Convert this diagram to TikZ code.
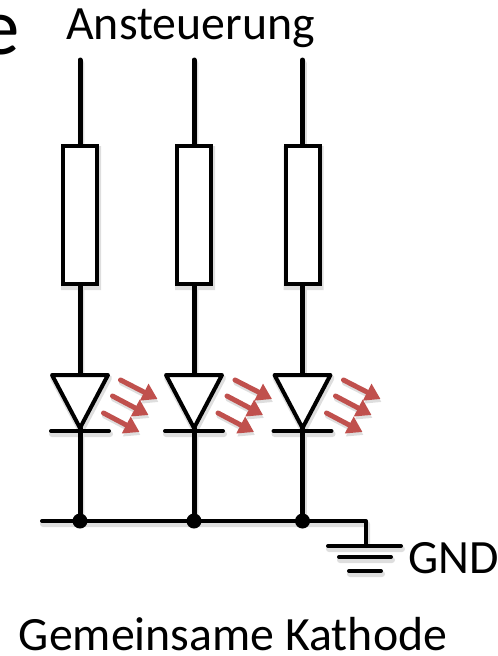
\documentclass[tikz,border=0pt]{standalone}
\usepackage{fontspec}
\setmainfont{Carlito}
\usetikzlibrary{arrows.meta}
\definecolor{ledred}{RGB}{192,80,77}
\tikzset{
  wire/.style={line width=5pt,line cap=round},
  thin wire/.style={line width=4pt,line cap=round},
  box/.style={draw,line width=4pt,fill=white,minimum width=34pt,minimum height=138pt,inner sep=0pt},
  ray/.style={draw=ledred,line width=5pt,line cap=round,-{Triangle[length=15pt,width=18pt]}},
  label/.style={font=\fontsize{47.8}{48}\selectfont,inner sep=0pt,text=black},
}
\newcommand{\ledcolumn}[2]{%
  \coordinate (top#2) at (#1,60);
  \node[box] (r#2) at (#1,215) {};
  \coordinate (tl#2) at (#1-28,375);
  \coordinate (tr#2) at (#1+28,375);
  \coordinate (ta#2) at (#1,428);
  \coordinate (bl#2) at (#1-29,431);
  \coordinate (br#2) at (#1+29,431);
  \coordinate (j#2) at (#1,521);
  \draw[wire] (top#2) -- (r#2.north);
  \draw[wire] (r#2.south) -- (#1,375);
  \draw[thin wire,line join=round,fill=white] (tl#2) -- (tr#2) -- (ta#2) -- cycle;
  \draw[thin wire] (bl#2) -- (br#2);
  \draw[wire] (ta#2) -- (j#2);
}
\newcommand{\rays}[1]{%
  \coordinate (a1) at (#1+41,380); \coordinate (a2) at (#1+78,399);
  \coordinate (b1) at (#1+33,396); \coordinate (b2) at (#1+69,415);
  \coordinate (c1) at (#1+24,413); \coordinate (c2) at (#1+60,432);
  \draw[ray] (a1) -- (a2);
  \draw[ray] (b1) -- (b2);
  \draw[ray] (c1) -- (c2);
}
\newcommand{\circuit}{%
  \ledcolumn{80}{A}
  \ledcolumn{194}{B}
  \ledcolumn{302.5}{C}
  \rays{79.5}\rays{194}\rays{302.5}
  \coordinate (busL) at (42,521);
  \coordinate (busR) at (366,521);
  \coordinate (gnd) at (366,546);
  \draw[thin wire,line join=round] (busL) -- (busR) -- (gnd);
  \draw[thin wire] (328,546) -- (401,546);
  \draw[thin wire] (339,557) -- (391,557);
  \draw[thin wire] (349,571) -- (381,571);
}
\begin{document}
\begin{tikzpicture}[x=1pt,y=-1pt]
\useasboundingbox (0,0) rectangle (498,656);
\fill[white] (0,0) rectangle (498,656);
\begin{scope}[shift={(1,3)},opacity=.13,transparency group]
\tikzset{ray/.append style={draw=black,fill=black},
  wire/.append style={line width=6.5pt},thin wire/.append style={line width=6pt},box/.append style={line width=6pt}}
\circuit
\end{scope}
\circuit
\foreach \n/\x in {A/80,B/194,C/302.5}{
  \fill (\x,521) circle (7.5pt);
}
\node[label,anchor=base] (title) at (190.5,39) {Ansteuerung};
\node[label,anchor=base west] (gndlabel) at (408.5,573) {GND};
\node[label,anchor=base] (caption) at (233,650) {Gemeinsame Kathode};
\node[font=\fontsize{81}{81}\selectfont,anchor=base east,inner sep=0pt] (cut) at (20,54) {e};
\end{tikzpicture}
\end{document}
